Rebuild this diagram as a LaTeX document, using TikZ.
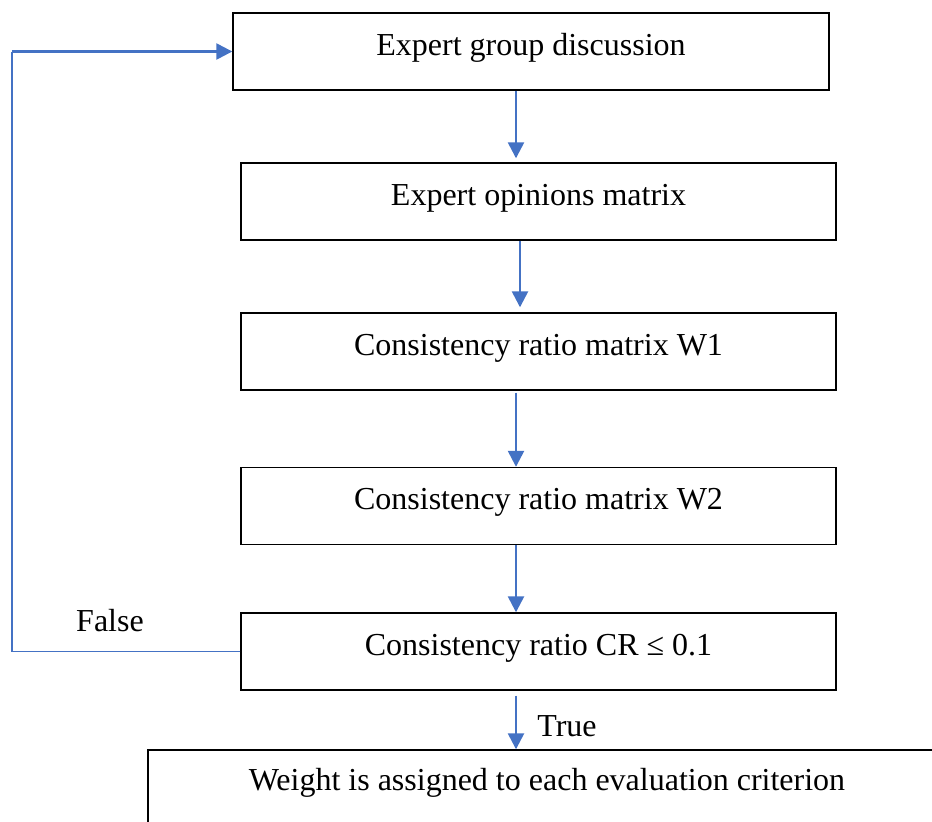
\documentclass[tikz,border=0pt]{standalone}
\usepackage{fontspec}
\setmainfont{Liberation Serif}
\usetikzlibrary{arrows.meta}
\definecolor{flowblue}{HTML}{4472C4}
\begin{document}
\begin{tikzpicture}[x=1pt,y=-1pt,
  stepbox/.style={draw=black, line width=1.4pt, fill=white, inner xsep=0pt, inner ysep=0pt,
    text height=42pt, text depth=35pt, minimum width=595pt, font=\fontsize{32}{38}\selectfont},
  flow/.style={draw=flowblue, line width=2.5pt, -{Triangle[length=16pt,width=16pt]}},
  back/.style={draw=flowblue, line width=1.2pt},
  lbl/.style={font=\fontsize{32}{38}\selectfont, inner sep=0pt}]
\useasboundingbox (0,0) rectangle (932,822);
\clip (0,0) rectangle (932,822);
\node[stepbox, minimum width=596pt] (b1) at (531,51.5) {Expert group discussion};
\node[stepbox] (b2) at (538.5,201.5) {Expert opinions matrix};
\node[stepbox] (b3) at (538.5,351.5) {Consistency ratio matrix W1};
\node[stepbox] (b4) at (538.5,506) {Consistency ratio matrix W2};
\node[stepbox] (b5) at (538.5,651.5) {Consistency ratio CR ≤ 0.1};
\node[stepbox, minimum width=798pt, text height=40pt, text depth=60pt] (b6) at (547,800) {Weight is assigned to each evaluation criterion};
\coordinate (ax) at (516,0);
\coordinate (bx) at (520,0);
\coordinate (lx) at (12,0);
\draw[flow] (b1.south -| ax) -- ([yshift=4pt]b2.north -| ax);
\draw[flow] (b2.south -| bx) -- ([yshift=5pt]b3.north -| bx);
\draw[flow] ([yshift=-2pt]b3.south -| ax) -- (b4.north -| ax);
\draw[flow] (b4.south -| ax) -- (b5.north -| ax);
\draw[flow] ([yshift=-5pt]b5.south -| ax) -- (b6.north -| ax);
\draw[back] (b5.west) -- (b5.west -| lx) -- (b1.west -| lx);
\draw[flow] (b1.west -| lx) -- (b1.west);
\node[lbl] (f) at (110,621) {False};
\node[lbl] (t) at (567,726) {True};
\end{tikzpicture}
\end{document}
